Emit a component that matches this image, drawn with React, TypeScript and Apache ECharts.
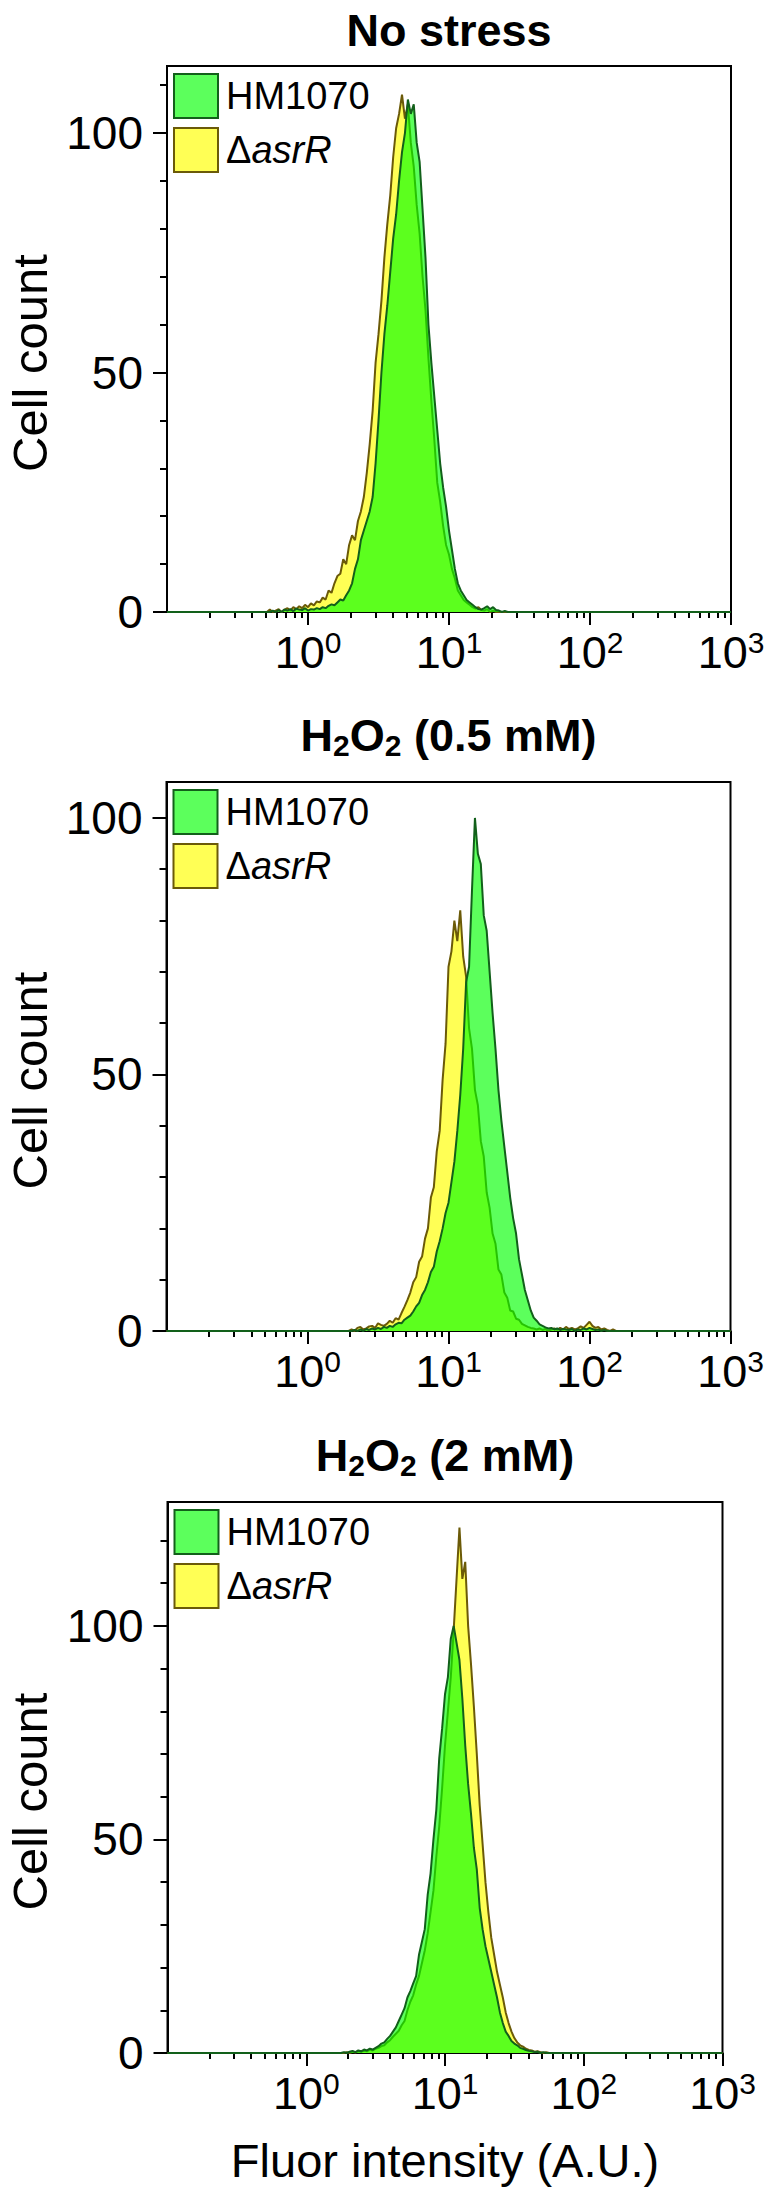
import React, { useEffect, useRef } from 'react';
import * as echarts from 'echarts';

// ---------- data ----------
// Flow-cytometry histograms: 48 channels per decade, channel 0 = 10^-1, channel 192 = 10^3
const CHANNELS_PER_DECADE = 48;
const LAST_CHANNEL = 192;

const SERIES_WT = 'HM1070';
const SERIES_MUT = 'ΔasrR';

const PANEL_TITLES = ['No stress', 'H2O2 (0.5 mM)', 'H2O2 (2 mM)'];
const Y_MAX = [114, 107, 129];
const Y_MAJOR = [0, 50, 100];
const Y_MINOR = [10, 20, 30, 40, 60, 70, 80, 90, 110, 120];
const X_MAJOR = [0, 1, 2, 3]; // log10 of 10^0 .. 10^3
const X_DECADES = [-1, 0, 1, 2];
const X_MINOR_MULT = [2, 3, 4, 5, 6, 7, 8, 9];

// Panel 1 : No stress (first channel 34)
const P1_START = 34;
const P1_HM1070 = [
  0, 0, 0.3, 0, 0.4, 0, 0.5, 0.3, 0.6, 0.2, 0.7, 0.5, 0.4, 0.8, 0.3, 0.6, 0.5, 0.8, 0.6, 1.0,
  0.8, 1.3, 1.6, 1.4, 2.0, 2.6, 2.4, 3.5, 4.5, 6.0, 9, 11, 15, 17, 19, 21, 24, 31, 40, 50,
  58, 64, 71, 78, 83, 90, 96, 100, 107, 104, 106, 98, 94, 84, 74, 60, 52, 45, 38, 31,
  26, 22, 17, 13, 9, 6, 4.5, 3.5, 2.5, 2.0, 1.5, 1.0, 0.6, 0.5, 0.8, 1.2, 0.6, 1.0, 0.4, 0.3,
  0, 0.2, 0,
];
const P1_ASRR = [
  0, 0.5, 0, 0.3, 0.6, 0, 0.5, 0.8, 0.3, 1.0, 0.6, 1.2, 0.8, 1.5, 1.0, 1.8, 1.4, 2.2, 2.0, 3.0,
  2.6, 4.5, 4.0, 6.0, 7.5, 8.0, 11, 10, 14, 16, 15, 19, 21, 24, 29, 35, 42, 52, 58, 65,
  74, 81, 87, 95, 101, 104, 108, 103, 106, 98, 93, 85, 79, 70, 63, 53, 44, 36, 27, 23,
  18, 14, 12, 9, 7, 4.5, 3.5, 2.5, 2, 1.5, 1, 0.7, 1, 0.4, 0.3, 0.6, 0, 0.3, 0, 0,
  0, 0, 0,
];

// Panel 2 : H2O2 0.5 mM (first channel 62)
const P2_START = 62;
const P2_HM1070 = [
  0, 0, 0.2, 0, 0.3, 0, 0.4, 0.2, 0.5, 0.3, 0.6, 0.4, 0.8, 0.6, 1.0, 0.8, 1.3, 1.6, 1.5, 2.2,
  2.6, 3.0, 3.8, 4.8, 5.5, 7, 8, 9.5, 11.5, 12.5, 15.5, 17.5, 20, 23, 25, 29, 33, 39, 46, 55,
  68, 71, 86, 100, 93, 91, 81, 78, 70, 62, 55, 47, 41, 36, 31, 26, 22, 19, 14, 11,
  8, 6, 4, 2.6, 2, 1.3, 1.0, 0.7, 0.5, 0.6, 0.3, 0.5, 0.2, 0.4, 0.3, 0.2, 0.4, 0, 0.3, 0.2,
  0.5, 0.3, 0.6, 0.4, 0.2, 0.3, 0, 0.2, 0, 0, 0, 0, 0,
];
const P2_ASRR = [
  0, 0.3, 0, 0.6, 0.8, 0.3, 0.5, 0.9, 1.0, 0.6, 1.5, 1.2, 1.0, 1.4, 2.0, 1.6, 2.5, 2.2, 3.5, 4.7,
  6, 7.5, 9.5, 10.5, 13.5, 14.5, 18, 20, 26, 28, 35, 39, 49, 56, 71, 74, 80, 76, 82, 73,
  69, 59, 55, 47, 44, 37, 34, 27, 24, 19, 17, 12, 11, 7.5, 6.5, 4, 3.8, 2.4, 2.2, 1.4,
  1.1, 0.8, 0.6, 0.5, 0.3, 0.5, 0.2, 0.4, 0, 0.3, 0.5, 0.2, 0.6, 0.3, 0.8, 0.4, 0.6, 0.3, 0.5, 0.9,
  0.6, 1.2, 1.8, 1.0, 0.6, 0.8, 0.3, 0.5, 0.2, 0, 0.3, 0, 0,
];

// Panel 3 : H2O2 2 mM (first channel 60)
const P3_START = 60;
const P3_HM1070 = [
  0, 0.2, 0, 0.3, 0.5, 0.2, 0.6, 0.4, 0.8, 0.6, 1.0, 0.8, 1.2, 1.6, 2.2, 2.5, 3.3, 4.0, 5.0, 6.0,
  7.5, 9, 10.5, 13, 14.5, 16.3, 18, 23, 26, 29, 37, 42, 50, 57, 69, 76, 84, 88, 97, 100,
  96, 92, 83, 72, 63, 56, 48, 43, 34, 29, 25, 22, 19, 16, 13, 9.5, 7, 5, 4, 2.8,
  2.2, 1.8, 1.2, 1.0, 0.7, 0.5, 0.4, 0.2, 0.3, 0, 0.2, 0, 0,
];
const P3_ASRR = [
  0, 0, 0.2, 0, 0.3, 0.1, 0.4, 0.3, 0.5, 0.4, 0.8, 0.6, 1.0, 1.2, 1.6, 1.8, 2.5, 3.0, 3.8, 4.5,
  5.2, 6.5, 7.5, 10, 12, 13.5, 16, 18, 21, 24, 28, 33, 38, 46, 53, 62, 72, 80, 88, 99,
  111, 123, 111, 115, 100, 91, 81, 70, 58, 49, 40, 33, 27, 23, 19, 16, 13, 9.5, 7, 5,
  3.5, 2.5, 1.8, 1.5, 1.0, 0.7, 0.6, 0.3, 0.4, 0.2, 0, 0.2, 0,
];

const PANELS = [
  { start: P1_START, wt: P1_HM1070, mut: P1_ASRR },
  { start: P2_START, wt: P2_HM1070, mut: P2_ASRR },
  { start: P3_START, wt: P3_HM1070, mut: P3_ASRR },
];

// ---------- layout / style ----------
const FONT = '"Liberation Sans", Arial, Helvetica, sans-serif';
const GRIDS = [
  { left: 167, top: 66, width: 564, height: 546 },
  { left: 166.5, top: 782, width: 564, height: 549 },
  { left: 167.5, top: 1502, width: 555, height: 551 },
];
const TITLE_Y = [30, 735, 1455];
const WT_FILL = 'rgba(0,255,0,0.64)';
const WT_LINE = '#12601a';
const WT_LEGEND = '#5cff5c';
const MUT_FILL = '#ffff55';
const MUT_LINE = '#6b5a08';

function toPoints(start: number, counts: number[]) {
  const pts: number[][] = [];
  for (let c = 0; c <= LAST_CHANNEL; c++) {
    const i = c - start;
    const v = i >= 0 && i < counts.length ? counts[i] : 0;
    pts.push([-1 + c / CHANNELS_PER_DECADE, v]);
  }
  return pts;
}

function titleRich(t: string) {
  if (t.startsWith('H2O2')) {
    const rest = t.slice(4);
    return '{m|H}{s|2}{m|O}{s|2}{m|' + rest + '}';
  }
  return '{m|' + t + '}';
}

function buildOption() {
  const xMinor = X_DECADES.flatMap((d) => X_MINOR_MULT.map((m) => d + Math.log10(m)));
  const grid: any[] = [];
  const xAxis: any[] = [];
  const yAxis: any[] = [];
  const series: any[] = [];
  const legend: any[] = [];
  const graphic: any[] = [];

  GRIDS.forEach((g, i) => {
    grid.push({ ...g, show: true, borderColor: '#000', borderWidth: 2, backgroundColor: 'transparent' });
    xAxis.push({
      gridIndex: i, type: 'value', position: 'bottom', min: -1, max: 3, interval: 1,
      axisLine: { show: true, onZero: false, lineStyle: { color: '#000', width: 2 } },
      axisTick: { show: true, length: 13, customValues: X_MAJOR, lineStyle: { color: '#000', width: 2 } },
      axisLabel: {
        customValues: X_MAJOR, margin: 15, color: '#000',
        formatter: (v: number) => '{b|10}{s|' + v + '}',
        rich: {
          b: { fontSize: 45, lineHeight: 50, fontFamily: FONT, color: '#000' },
          s: { fontSize: 30, lineHeight: 30, verticalAlign: 'top', fontFamily: FONT, color: '#000' },
        },
      },
      splitLine: { show: false },
    });
    xAxis.push({
      gridIndex: i, type: 'value', position: 'bottom', min: -1, max: 3, interval: 1,
      axisLine: { show: false, onZero: false },
      axisTick: { show: true, length: 6, customValues: xMinor, lineStyle: { color: '#000', width: 2 } },
      axisLabel: { show: false },
      splitLine: { show: false },
    });
    yAxis.push({
      gridIndex: i, type: 'value', position: 'left', min: 0, max: Y_MAX[i], interval: 50,
      axisLine: { show: true, onZero: false, lineStyle: { color: '#000', width: 2 } },
      axisTick: { show: true, length: 14, customValues: Y_MAJOR, lineStyle: { color: '#000', width: 2 } },
      axisLabel: { customValues: Y_MAJOR, margin: 24, fontSize: 46, fontFamily: FONT, color: '#000' },
      splitLine: { show: false },
    });
    yAxis.push({
      gridIndex: i, type: 'value', position: 'left', min: 0, max: Y_MAX[i], interval: 50,
      axisLine: { show: false, onZero: false },
      axisTick: { show: true, length: 7, customValues: Y_MINOR.filter((v) => v < Y_MAX[i]), lineStyle: { color: '#000', width: 2 } },
      axisLabel: { show: false },
      splitLine: { show: false },
    });

    const p = PANELS[i];
    series.push({
      name: SERIES_MUT, type: 'line', xAxisIndex: 2 * i, yAxisIndex: 2 * i,
      data: toPoints(p.start, p.mut), symbol: 'none', showSymbol: false, silent: true,
      lineStyle: { color: MUT_LINE, width: 2 }, itemStyle: { color: MUT_FILL },
      areaStyle: { color: MUT_FILL, opacity: 1 }, z: 2,
    });
    series.push({
      name: SERIES_WT, type: 'line', xAxisIndex: 2 * i, yAxisIndex: 2 * i,
      data: toPoints(p.start, p.wt), symbol: 'none', showSymbol: false, silent: true,
      lineStyle: { color: WT_LINE, width: 2 }, itemStyle: { color: WT_LEGEND },
      areaStyle: { color: WT_FILL, opacity: 1 }, z: 3,
    });

    legend.push({
      orient: 'vertical', left: g.left + 6, top: g.top + 7, padding: 0,
      itemWidth: 44, itemHeight: 44, itemGap: 8, selectedMode: false,
      data: [
        { name: SERIES_WT, icon: 'rect', itemStyle: { color: WT_LEGEND, borderColor: WT_LINE, borderWidth: 2 } },
        { name: SERIES_MUT, icon: 'rect', itemStyle: { color: MUT_FILL, borderColor: MUT_LINE, borderWidth: 2 } },
      ],
      formatter: (name: string) => (name === SERIES_MUT ? '{d|Δ}{i|asrR}' : '{n|' + name + '}'),
      textStyle: {
        fontSize: 38, fontFamily: FONT, color: '#000', lineHeight: 44,
        rich: {
          n: { fontSize: 38, fontFamily: FONT, color: '#000', padding: [0, 0, 0, 3] },
          d: { fontSize: 38, fontFamily: FONT, color: '#000', padding: [0, 0, 0, 3] },
          i: { fontSize: 38, fontFamily: FONT, color: '#000', fontStyle: 'italic' },
        },
      },
    });

    const cx = g.left + g.width / 2;
    graphic.push({
      type: 'text', x: cx, y: TITLE_Y[i],
      style: {
        text: titleRich(PANEL_TITLES[i]), align: 'center', verticalAlign: 'middle',
        rich: {
          m: { fontSize: 45, fontWeight: 'bold', fontFamily: FONT, fill: '#000', lineHeight: 50 },
          s: { fontSize: 30, fontWeight: 'bold', fontFamily: FONT, fill: '#000', lineHeight: 16, verticalAlign: 'bottom' },
        },
      },
    });
    graphic.push({
      type: 'text', x: 30, y: g.top + g.height / 2 + 24, rotation: Math.PI / 2,
      style: { text: 'Cell count', fontSize: 49, fontFamily: FONT, fill: '#000', align: 'center', verticalAlign: 'middle' },
    });
  });

  const last = GRIDS[2];
  graphic.push({
    type: 'text', x: last.left + last.width / 2, y: 2160,
    style: { text: 'Fluor intensity (A.U.)', fontSize: 47, fontFamily: FONT, fill: '#000', align: 'center', verticalAlign: 'middle' },
  });

  return {
    animation: false,
    backgroundColor: '#fff',
    grid, xAxis, yAxis, series, legend, graphic,
  };
}

export default function App() {
  const ref = useRef<HTMLDivElement>(null);
  useEffect(() => {
    const chart = echarts.init(ref.current!, null, { renderer: 'svg' });
    chart.setOption(buildOption() as any);
    return () => chart.dispose();
  }, []);
  return (
    <div
      ref={ref}
      style={{ position: 'absolute', left: 0, top: 0, width: 776, height: 2193, background: '#fff' }}
    />
  );
}
